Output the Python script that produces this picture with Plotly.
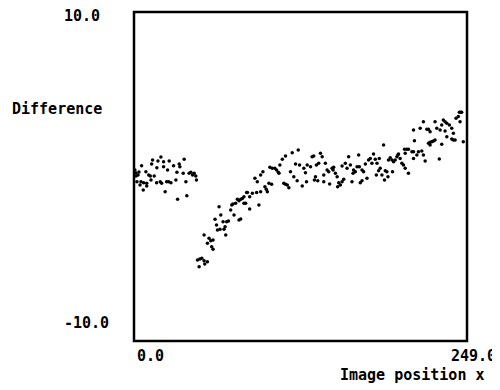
import plotly.graph_objects as go

# ---- data (image position x, difference) ----
seg1_x = [5.7, 13.9, 17.9, 22.1, 26.3, 37.5, 13.2, 29.6, 33.8, 34.3, 17.1, 22.1, 25.1, 32.1, 36.8, 41.2, 42.5,
          43.8, 45.0, 46.2, 46.7, 8.9, 11.0, 12.2, 15.1, 1.5, 0.7, 5.2, 7.2, 9.5, 9.5, 12.7, 16.9, 19.6, 20.7,
          24.4, 25.9, 27.6, 31.3, 38.8, 23.3, 6.9, 32.6, 39.5, 2.2, 1.5, 3.0, 3.7, 4.5, 20.1]
seg1_y = [0.66, 1.0, 0.94, 0.9, 0.94, 1.05, 0.76, 0.66, 0.76, 0.6, 0.53, 0.6, 0.4, 0.26, 0.19, 0.19, 0.26,
          0.09, 0.19, 0.03, -0.21, 0.29, 0.09, 0.03, 0.03, 0.21, 0.4, -0.32, -0.38, -0.41, -0.58, -0.21, -0.38,
          -0.32, -0.41, -0.32, -0.32, -0.38, -0.21, -0.32, -0.92, -0.82, -1.39, -1.17, -0.32, 0.03, 0.09, 0.27,
          -0.52, 1.19]

seg2_x = [47.5, 49.2, 50.7, 52.4, 54.9, 48.7, 52.4, 56.1, 57.4, 59.1, 54.9, 58.1, 59.1, 52.9]
seg2_y = [-5.08, -5.02, -4.97, -5.12, -5.18, -5.48, -3.56, -3.76, -3.9, -3.86, -4.06, -4.27, -4.43, -5.32]

seg3_x = [60.6, 63.6, 64.9, 66.6, 68.1, 64.3, 67.3, 68.6, 61.7, 62.4, 69.3, 70.6, 73.1, 74.0, 76.0, 77.3,
          78.5, 79.8, 81.0, 82.2, 72.3, 74.8, 78.5, 79.8, 82.2, 84.2]
seg3_y = [-2.6, -1.84, -2.34, -2.75, -3.05, -3.21, -3.21, -3.56, -2.95, -3.25, -2.75, -2.71, -1.73, -1.67,
          -1.63, -1.39, -1.47, -1.39, -1.33, -1.63, -2.04, -2.34, -2.64, -2.58, -1.23, -0.98]

seg4_x = [84.8, 86.5, 88.5, 91.7, 94.7, 83.5, 86.5, 93.4, 90.4, 92.2, 94.7, 96.4, 97.9, 98.9, 99.7, 100.9,
          102.9, 101.6, 103.4, 105.3, 106.6, 107.9, 109.1, 108.4, 110.9, 113.3, 118.3, 122.8, 112.0, 113.3,
          114.6, 115.8, 117.0, 120.8, 123.8, 127.0, 119.5, 122.0, 125.8]
seg4_y = [-0.98, -1.23, -1.02, -0.98, -0.92, -1.63, -1.98, -1.73, -0.11, -0.32, 0.09, 0.29, -0.62, -0.78,
          -0.92, -0.41, -0.47, 0.56, 0.5, 0.5, 0.4, 0.26, 0.7, 0.19, 1.05, 1.25, 1.45, 1.61, -0.41, -0.47,
          -0.52, -0.68, 0.29, 0.76, 0.7, 0.5, -0.01, -0.26, -0.58]

seg5_x = [133.2, 134.4, 139.4, 140.7, 129.5, 132.0, 128.2, 129.0, 136.4, 138.1, 143.1, 135.7, 134.9, 137.4,
          141.9, 146.3, 144.4, 145.6, 148.1, 149.3, 150.6, 151.9, 148.9, 155.6, 158.0, 160.5, 159.3, 161.8,
          164.2, 165.5, 163.8, 166.8, 168.0, 153.1, 154.3, 155.6, 156.8, 163.0, 152.3, 141.9]
seg5_y = [1.2, 1.25, 1.41, 1.2, 0.7, 0.6, 0.23, -0.32, 0.7, 0.8, 0.8, -0.01, -0.21, -0.26, -0.32, -0.46,
          0.4, 0.29, 0.5, 0.56, 0.19, -0.01, 0.4, 0.64, 0.8, 1.2, 0.5, 0.7, 0.4, 0.29, 0.19, 0.6, 1.31,
          -0.38, -0.52, -0.32, -0.17, -0.32, -0.62, 0.09]

seg6_x = [170.5, 171.7, 168.5, 169.2, 170.5, 174.2, 173.0, 175.4, 176.7, 177.9, 179.1, 180.4, 181.7, 182.9,
          181.2, 184.1, 183.4, 186.6, 185.4, 187.9, 189.1, 189.9, 187.3, 190.3, 191.6, 192.9, 194.1, 195.3,
          196.6, 197.3, 197.8, 199.0, 193.3, 200.3, 201.5, 202.8, 205.2, 202.3, 204.0, 205.2, 202.8, 209.0,
          209.7, 209.0]
seg6_y = [0.4, 0.29, 0.6, -0.38, -0.26, -0.11, 0.76, 1.0, 1.1, 0.8, 1.37, 1.05, 0.8, 0.35, 0.09, 0.5, 1.1,
          1.91, 0.09, 0.35, 0.29, -0.01, -0.21, 1.0, 1.14, 1.0, 0.9, 1.0, 1.2, 1.31, 1.37, 1.1, 0.29, 0.8,
          0.7, 0.5, 0.19, 1.65, 1.65, 1.65, 1.41, 2.83, 2.18, 1.51]

seg7_x = [214.0, 216.4, 219.0, 220.2, 221.4, 225.1, 226.4, 228.9, 230.1, 231.3, 232.6, 233.9, 232.6, 235.8,
          237.6, 238.8, 233.9, 237.6, 238.8, 240.1, 240.8, 242.5, 243.3, 244.3, 245.0, 243.8, 207.8, 209.0,
          211.5, 212.7, 215.2, 216.4, 217.7, 220.2, 221.4, 222.7, 223.9, 225.1, 221.4, 230.1, 228.3, 246.2]
seg7_y = [2.93, 3.33, 2.87, 2.87, 2.72, 3.33, 2.93, 2.83, 3.13, 3.43, 3.33, 3.23, 2.77, 3.13, 2.93, 2.63,
          2.42, 2.28, 2.22, 2.22, 3.54, 3.64, 3.9, 3.9, 3.9, 3.33, 1.51, 1.1, 1.31, 1.51, 1.55, 1.31, 0.94,
          2.02, 2.08, 2.12, 2.16, 2.22, 1.91, 1.96, 1.06, 2.12]

x_range = [0.0, 249.0]
y_range = [-10.0, 10.0]
x_tick_labels = ["0.0", "249.0"]
y_tick_labels = ["10.0", "-10.0"]

image_x = seg1_x + seg2_x + seg3_x + seg4_x + seg5_x + seg6_x + seg7_x
difference = seg1_y + seg2_y + seg3_y + seg4_y + seg5_y + seg6_y + seg7_y

# ---- layout geometry (page pixels); page body has an 8px default margin ----
OFF = 8
W, H = 500 - OFF, 390 - OFF
L, R, T, B = 134 - OFF, 467 - OFF, 12 - OFF, 341 - OFF


def px(xp):
    return (xp - OFF - L) / (R - L)


def py(yp):
    return (B - (yp - OFF)) / (B - T)


FONT = dict(family="DejaVu Sans Mono", size=15, color="black", weight="bold")

fig = go.Figure()
fig.add_trace(go.Scatter(
    x=image_x, y=difference, mode="markers",
    marker=dict(color="black", size=3.5, symbol="circle", line=dict(width=0)),
    hoverinfo="skip", showlegend=False,
))

fig.add_shape(type="rect", xref="paper", yref="paper", x0=0, x1=1, y0=0, y1=1,
              line=dict(color="black", width=2.5))

ann = [
    dict(text=y_tick_labels[0], x=px(62), y=py(16), xanchor="left"),
    dict(text="Difference", x=px(10), y=py(109), xanchor="left"),
    dict(text=y_tick_labels[1], x=px(62), y=py(323), xanchor="left"),
    dict(text=x_tick_labels[0], x=px(135), y=py(356), xanchor="left"),
    dict(text=x_tick_labels[1], x=px(498), y=py(356), xanchor="right"),
    dict(text="Image position x", x=px(487), y=py(375), xanchor="right"),
]
for a in ann:
    fig.add_annotation(xref="paper", yref="paper", yanchor="middle", showarrow=False,
                       font=FONT, **a)

fig.update_layout(
    width=W, height=H,
    margin=dict(l=L, r=W - R, t=T, b=H - B),
    paper_bgcolor="white", plot_bgcolor="white",
    xaxis=dict(range=x_range, visible=False, fixedrange=True),
    yaxis=dict(range=y_range, visible=False, fixedrange=True),
)

fig.write_html("out.html")
